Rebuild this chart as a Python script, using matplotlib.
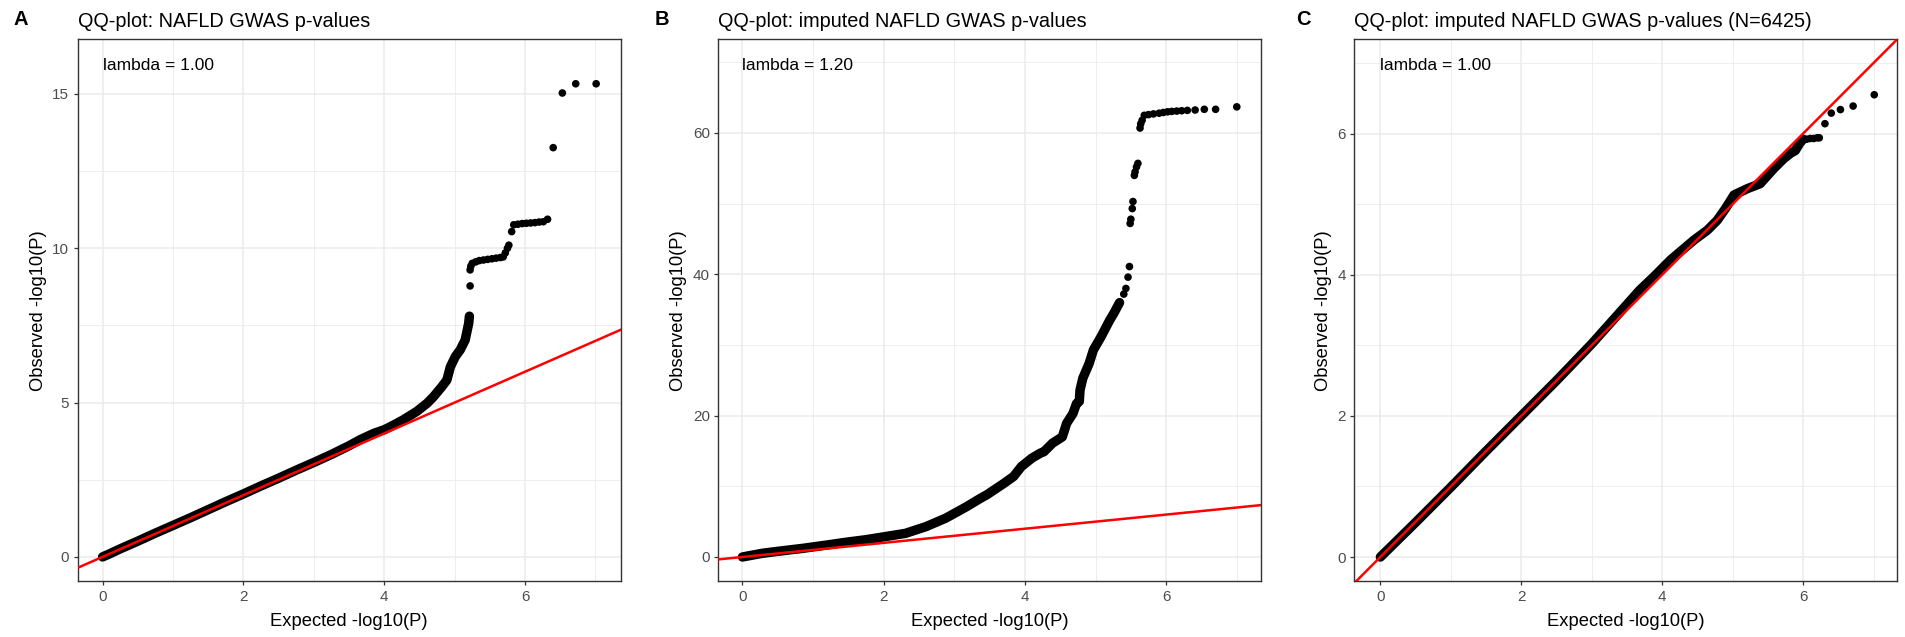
import matplotlib
matplotlib.use("Agg")
import matplotlib.pyplot as plt
from matplotlib.ticker import MultipleLocator

plt.rcParams['font.family'] = ['Liberation Sans', 'DejaVu Sans']

# ---------------- data ----------------
titles = ["QQ-plot: NAFLD GWAS p-values",
          "QQ-plot: imputed NAFLD GWAS p-values",
          "QQ-plot: imputed NAFLD GWAS p-values (N=6425)"]
panel_tags = ["A", "B", "C"]
lambdas = ["lambda = 1.00", "lambda = 1.20", "lambda = 1.00"]

# Panel A: dense band of points, then sparse tail
a_band_x = [0.0, 0.1, 0.25, 0.5, 0.75, 1.0, 1.25, 1.5, 1.75, 2.0, 2.25, 2.5, 2.75,
            3.0, 3.25, 3.5, 3.66, 3.85, 4.0, 4.09, 4.27, 4.46, 4.61, 4.70, 4.82,
            4.89, 4.94, 5.01, 5.08, 5.15, 5.20, 5.21]
a_band_y = [0.0, 0.1, 0.26, 0.51, 0.77, 1.02, 1.27, 1.53, 1.79, 2.04, 2.30, 2.55, 2.81,
            3.06, 3.32, 3.60, 3.80, 4.00, 4.12, 4.22, 4.44, 4.71, 4.98, 5.19, 5.52,
            5.73, 6.16, 6.49, 6.71, 7.03, 7.57, 7.80]
a_tail_x = [5.22, 5.22, 5.23, 5.25, 5.30, 5.35, 5.41, 5.47, 5.53, 5.59, 5.65, 5.69,
            5.72, 5.75, 5.77, 5.81, 5.84, 5.90, 5.96, 6.02, 6.08, 6.14, 6.20, 6.26,
            6.32, 6.40, 6.53, 6.72, 7.01]
a_tail_y = [8.78, 9.30, 9.42, 9.51, 9.56, 9.60, 9.62, 9.64, 9.66, 9.68, 9.70, 9.72,
            9.85, 10.00, 10.10, 10.54, 10.76, 10.78, 10.80, 10.81, 10.82, 10.83, 10.85, 10.86,
            10.94, 13.26, 15.03, 15.33, 15.33]

# Panel B
b_band_x = [0.0, 0.28, 0.5, 0.86, 1.2, 1.44, 1.75, 2.02, 2.31, 2.6, 2.88, 3.17,
            3.37, 3.46, 3.70, 3.84, 3.95, 4.10, 4.22, 4.27, 4.39, 4.53, 4.59, 4.68,
            4.73, 4.77, 4.78, 4.82, 4.91, 4.97, 5.08, 5.20, 5.26, 5.34]
b_band_y = [0.0, 0.52, 0.80, 1.23, 1.70, 2.05, 2.45, 2.88, 3.35, 4.30, 5.50, 7.10,
            8.30, 8.80, 10.40, 11.40, 12.80, 14.00, 14.70, 14.90, 16.10, 17.00, 18.90, 20.30,
            21.70, 22.00, 23.60, 25.30, 27.40, 29.30, 31.20, 33.50, 34.50, 36.00]
b_tail_x = [5.40, 5.43, 5.46, 5.48, 5.49, 5.50, 5.52, 5.53, 5.55, 5.56, 5.58, 5.60,
            5.63, 5.64, 5.66, 5.69, 5.75, 5.82, 5.90, 5.96, 6.02, 6.08, 6.15, 6.22,
            6.30, 6.41, 6.54, 6.70, 7.00]
b_tail_y = [37.2, 38.0, 39.6, 41.1, 47.2, 47.8, 49.3, 50.3, 54.0, 54.5, 55.2, 55.7,
            60.7, 61.3, 61.8, 62.5, 62.6, 62.7, 62.8, 62.9, 63.0, 63.05, 63.1, 63.15,
            63.2, 63.25, 63.35, 63.35, 63.7]

# Panel C
c_band_x = [0.0, 0.5, 1.0, 1.5, 2.0, 2.5, 3.0, 3.34, 3.68, 3.88, 4.12, 4.45, 4.64,
            4.78, 4.90, 5.02, 5.21, 5.39, 5.58, 5.72, 5.82, 5.89, 5.95, 6.00]
c_band_y = [0.0, 0.49, 0.99, 1.50, 2.00, 2.50, 3.02, 3.40, 3.78, 3.97, 4.21, 4.49, 4.63,
            4.77, 4.94, 5.13, 5.22, 5.29, 5.50, 5.64, 5.72, 5.76, 5.86, 5.92]
c_tail_x = [6.05, 6.10, 6.15, 6.20, 6.23, 6.31, 6.40, 6.53, 6.71, 7.01]
c_tail_y = [5.92, 5.93, 5.93, 5.94, 5.94, 6.14, 6.29, 6.34, 6.39, 6.55]

x_ticks = [0, 2, 4, 6]
y_ticks = [[0, 5, 10, 15], [0, 20, 40, 60], [0, 2, 4, 6]]
y_minor = [2.5, 10, 1]
y_limits = [(-0.79, 16.78), (-3.44, 73.3), (-0.344, 7.34)]
x_limits = [(-0.354, 7.36), (-0.34, 7.34), (-0.37, 7.33)]

# ---------------- layout ----------------
W, H = 1906, 637
fig = plt.figure(figsize=(W / 100, H / 100), dpi=100)
lefts = [77.6, 718.4, 1354.3]
widths = [543.2, 542.4, 542.5]
top_px, bot_px = 39.0, 581.3
tag_x = [20.5, 661.5, 1303.0]
ylab_x = [38.8, 678.8, 1323.9]

bands = [(a_band_x, a_band_y), (b_band_x, b_band_y), (c_band_x, c_band_y)]
tails = [(a_tail_x, a_tail_y), (b_tail_x, b_tail_y), (c_tail_x, c_tail_y)]

for i in range(3):
    ax = fig.add_axes([lefts[i] / W, 1 - bot_px / H, widths[i] / W, (bot_px - top_px) / H])
    ax.set_facecolor('white')
    bx, by = bands[i]
    tx, ty = tails[i]
    ax.plot(bx, by, '-', color='black', lw=6.8, solid_capstyle='round',
            solid_joinstyle='round', zorder=3)
    ax.scatter(bx, by, s=30, color='black', edgecolors='none', zorder=3)
    ax.scatter(tx, ty, s=30, color='black', edgecolors='none', zorder=3)
    ax.axline((0, 0), slope=1, color='#FF0000', lw=1.8, zorder=4)

    ax.set_xlim(*x_limits[i])
    ax.set_ylim(*y_limits[i])
    ax.set_xticks(x_ticks)
    ax.set_yticks(y_ticks[i])
    ax.xaxis.set_minor_locator(MultipleLocator(1))
    ax.yaxis.set_minor_locator(MultipleLocator(y_minor[i]))
    ax.grid(True, which='major', color='#EBEBEB', lw=1.1, zorder=0)
    ax.grid(True, which='minor', color='#EBEBEB', lw=0.6, zorder=0)
    ax.set_axisbelow(True)
    ax.tick_params(which='major', length=3.0, width=0.9, color='#333333',
                   labelsize=11, labelcolor='#4D4D4D', pad=3)
    ax.tick_params(which='minor', length=0)
    for sp in ax.spines.values():
        sp.set_color('#333333')
        sp.set_linewidth(1.0)

    ax.set_xlabel("Expected -log10(P)", fontsize=13.2, color='black')
    ax.xaxis.set_label_coords(0.5, (bot_px - 621.7) / (bot_px - top_px))
    ax.xaxis.label.set_va('center')
    ax.set_ylabel("Observed -log10(P)", fontsize=13.2, color='black')
    ax.yaxis.set_label_coords((ylab_x[i] - lefts[i]) / widths[i], 0.5)
    ax.yaxis.label.set_va('center')

    ax.text(0, 0.951, lambdas[i], transform=ax.get_xaxis_transform(),
            ha='left', va='center', fontsize=12.5, color='black')

    fig.text(lefts[i] / W, 1 - 26.7 / H, titles[i], ha='left', va='baseline',
             fontsize=14.3, color='black')
    fig.text(tag_x[i] / W, 1 - 19.7 / H, panel_tags[i], ha='center', va='center',
             fontsize=14.5, fontweight='bold', color='black')

fig.savefig("out.png", dpi=100, facecolor='white')
